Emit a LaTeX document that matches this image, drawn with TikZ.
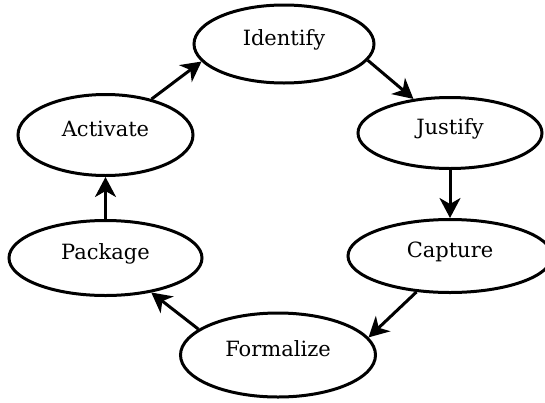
\documentclass[tikz,border=0pt]{standalone}
\usepackage{fontspec}
\setmainfont{DejaVu Serif}
\usepackage{tikz}
\usetikzlibrary{shapes.geometric,arrows.meta}
\tikzset{
	stage/.style={
			ellipse, draw, line width=3pt, inner sep=0pt,
			text height=16pt, text depth=13pt,
			font=\fontsize{21}{25}\selectfont
		},
	flow/.style={
			line width=3pt,
			-{Stealth[length=20pt,width=21pt,inset=6pt]}
		}
}

\begin{document}
\begin{tikzpicture}[x=1pt, y=-1pt]
			\useasboundingbox (0,0) rectangle (545,402);

			\node[stage, minimum width=180pt, minimum height=78pt] (idf) at (284,44) {Identify};
			\node[stage, minimum width=184pt, minimum height=71pt] (jus) at (450,133) {Justify};
			\node[stage, minimum width=204pt, minimum height=73pt] (cap) at (450,256) {Capture};
			\node[stage, minimum width=195pt, minimum height=84pt] (frm) at (278,355) {Formalize};
			\node[stage, minimum width=193pt, minimum height=75pt] (pkg) at (105.5,258) {Package};
			\node[stage, minimum width=175pt, minimum height=81pt] (act) at (105.5,135) {Activate};

			\draw[flow] (idf.-11) -- (jus.137);
			\draw[flow] (jus.south) -- (cap.north);
			\draw[flow] (cap.227) -- (frm.11);
			\draw[flow] (frm.162) -- (pkg.-37);
			\draw[flow] (pkg.north) -- (act.south);
			\draw[flow] (act.38) -- (idf.192);
		\end{tikzpicture}
\end{document}
